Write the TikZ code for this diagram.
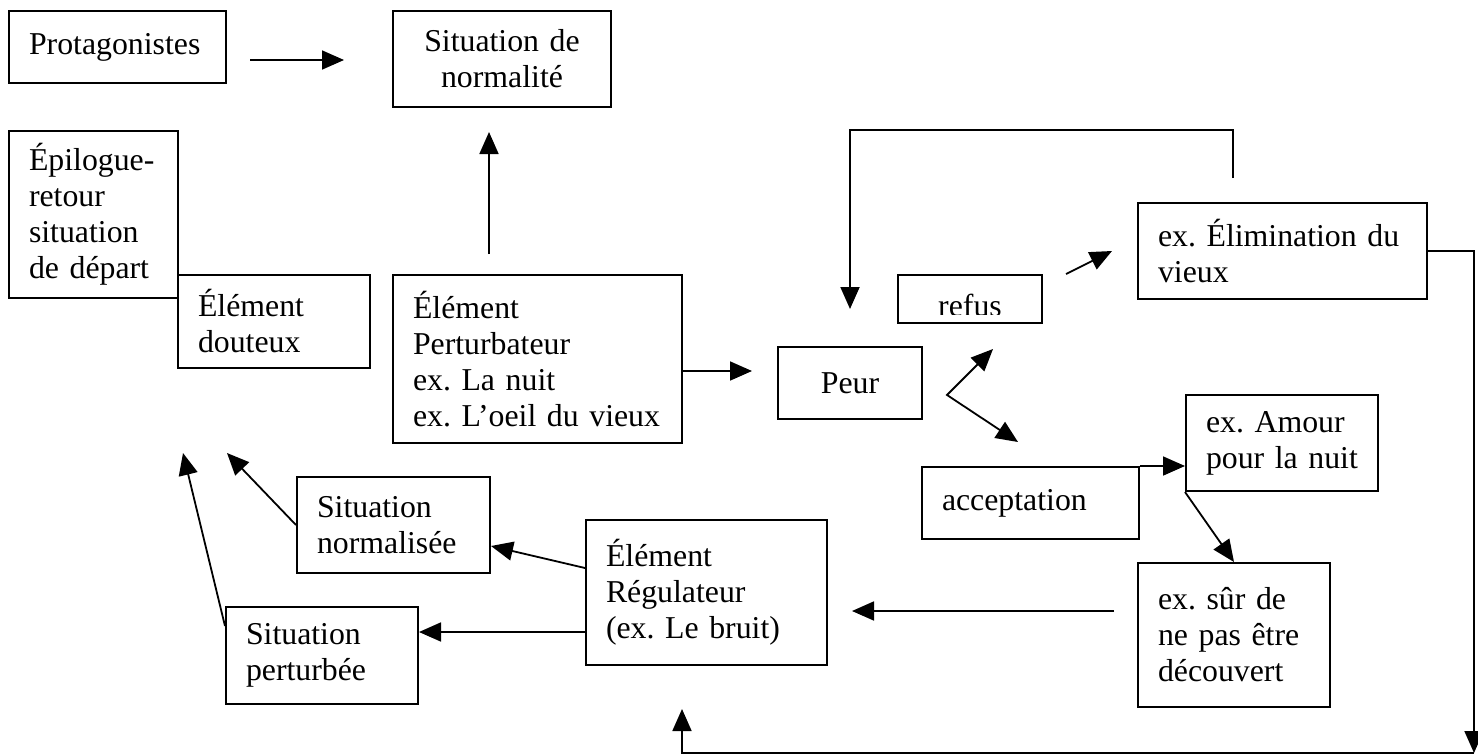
\documentclass[tikz,border=0pt]{standalone}
\usepackage{fontspec}
\setmainfont{Liberation Serif}
\usetikzlibrary{arrows.meta}
\frenchspacing

\begin{document}
\begin{tikzpicture}[
    x=0.5pt, y=-0.5pt,
    box/.style={rectangle, draw, line width=1pt, inner xsep=10pt, inner ysep=0pt, align=left, font=\fontsize{15.9}{18}\selectfont},
    cbox/.style={box, align=center},
    arrow/.style={-{Triangle[length=11pt,width=9.5pt]}, line width=0.9pt},
    twoway/.style={{Triangle[length=11pt,width=9.5pt]}-{Triangle[length=11pt,width=9.5pt]}, line width=0.9pt}
]
\useasboundingbox (0,0) rectangle (1478,755);
\node[box, text width=88.5pt, minimum height=36pt]    (prot)      at (117.5,47)   {Protagonistes};
\node[cbox, text width=89pt, minimum height=48pt]     (normal)    at (502,59)     {Situation de\\normalité};
\node[box, text width=64.5pt, minimum height=83.5pt]  (epil)      at (93.5,214.5) {Épilogue-\\retour\\situation\\de départ};
\node[box, text width=76pt, minimum height=46.5pt]    (douteux)   at (274,321.5)  {Élément\\douteux};
\node[box, text width=124.5pt, minimum height=84pt]   (pert)      at (537.5,359)  {Élément\\Perturbateur\\ex. La nuit\\ex. L’oeil du vieux};
\node[cbox, text width=52pt, minimum height=36pt]     (peur)      at (850,383)    {Peur};
\node[cbox, text width=52pt, minimum height=24pt]     (refus)     at (970,299)    {};
\begin{scope}
\clip (refus.north west) rectangle ([yshift=5pt]refus.south east);
\node[font=\fontsize{15.9}{18}\selectfont, anchor=base, inner sep=0pt] (refustxt) at ([yshift=-8.5pt]refus.center) {refus};
\end{scope}
\node[box, text width=124.5pt, minimum height=48pt]   (elim)      at (1282.5,251) {ex. Élimination du\\vieux};
\node[box, text width=76pt, minimum height=48pt]      (amour)     at (1282,443)   {ex. Amour\\pour la nuit};
\node[box, text width=88.5pt, minimum height=36pt]    (accept)    at (1030.5,503) {acceptation};
\node[box, text width=76pt, minimum height=72pt]      (sur)       at (1234,635)   {ex. sûr de\\ne pas être\\découvert};
\node[box, text width=100.5pt, minimum height=72.5pt] (regul)     at (706.5,592.5) {Élément\\Régulateur\\(ex. Le bruit)};
\node[box, text width=76.5pt, minimum height=48pt]    (normee)    at (393.5,525)  {Situation\\normalisée};
\node[box, text width=76pt, minimum height=48.5pt]    (perturbee) at (322,655.5)  {Situation\\perturbée};
\coordinate (corner) at (1474,753);
\coordinate (up1) at (227,453);
\coordinate (up2) at (183,453);
\draw[arrow, shorten <=11.5pt, shorten >=24pt] ([yshift=-6.5pt]prot.east) -- ([yshift=-0.5pt]normal.west);
\draw[arrow, shorten <=10pt, shorten >=12pt] ([xshift=-24.25pt]pert.north) -- ([xshift=-24.25pt]pert.north |- normal.south);
\draw[arrow, shorten >=12.5pt] ([yshift=-6pt]pert.east) -- ([yshift=-6pt]pert.east -| peur.west);
\draw[arrow, shorten <=12pt, shorten >=18.5pt] ([xshift=-24.75pt]elim.north) -- ++(0,-72) -| (peur.north);
\draw[arrow] ([xshift=11.5pt]refus.north east) -- ([xshift=-12.5pt]elim.west);
\draw[twoway] ([xshift=11.5pt,yshift=-12.5pt]refus.south) -- ([xshift=12pt,yshift=-6pt]peur.east) -- ([xshift=-6.25pt,yshift=12pt]accept.north);
\draw[arrow] (accept.north east) -- (accept.north east -| amour.west);
\draw[arrow] (amour.south west) -- (sur.north);
\draw[arrow, shorten <=11.5pt, shorten >=12pt] ([yshift=12pt]sur.west) -- ([yshift=12pt]sur.west -| regul.east);
\draw[arrow] (elim.east) -| (corner);
\draw[arrow, shorten >=21.5pt] (corner) -| ([xshift=-12.25pt]regul.south);
\draw[arrow] ([yshift=12.25pt]regul.west) -- ([yshift=-10.5pt]normee.east);
\draw[arrow] ([yshift=-19.75pt]regul.west) -- ([yshift=-19.75pt]regul.west -| perturbee.east);
\draw[arrow] (normee.west) -- (up1);
\draw[arrow] ([yshift=-10pt]perturbee.north west) -- (up2);
\end{tikzpicture}
\end{document}
